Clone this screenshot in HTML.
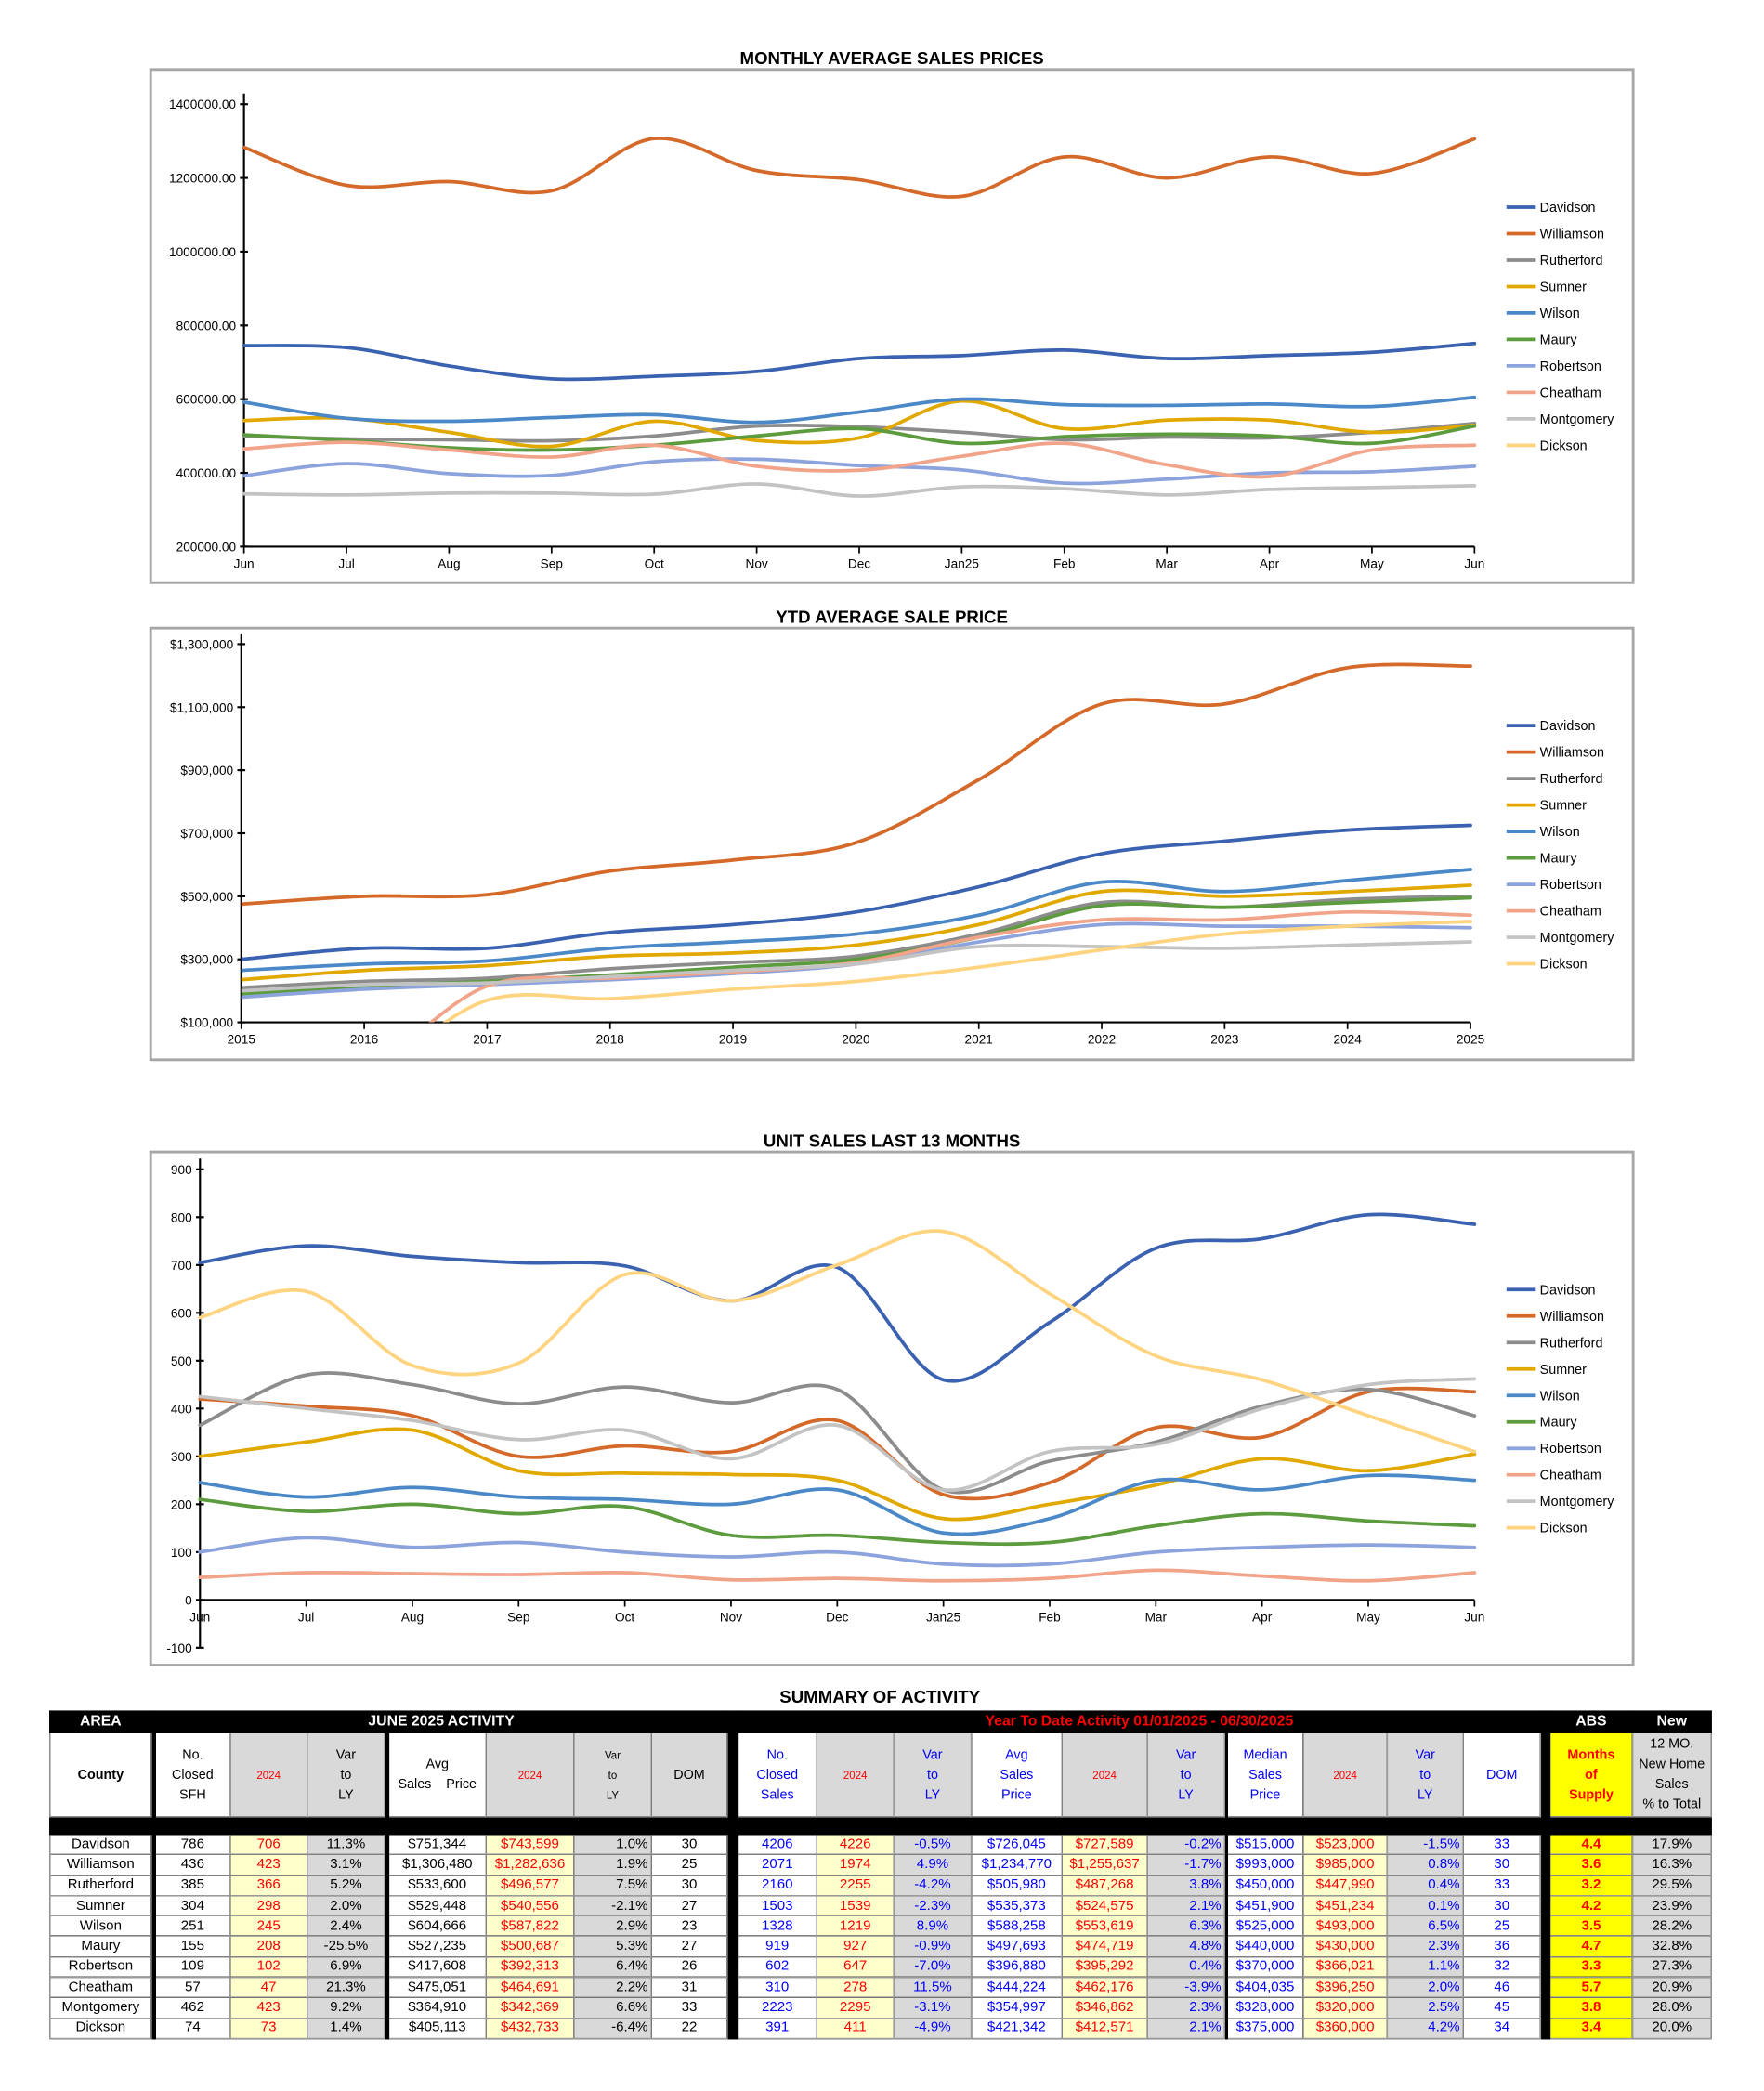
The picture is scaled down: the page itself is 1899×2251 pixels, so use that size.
<!DOCTYPE html>
<html><head><meta charset="utf-8">
<style>
html,body{margin:0;padding:0;background:#fff;}
body{width:1899px;height:2251px;overflow:hidden;position:relative;}
#wrap{position:absolute;left:0;top:0;width:1323px;height:1565px;transform:scale(1.4352,1.43864);transform-origin:0 0;font-family:"Liberation Sans Narrow","Liberation Sans",sans-serif;}
svg text{font-family:"Liberation Sans Narrow","Liberation Sans",sans-serif;}
#tbl{position:absolute;left:37px;top:1280px;width:1246px;border-collapse:collapse;table-layout:fixed;background:#000;font-size:10.5px;}
#tbl td{border:1px solid #9a9a9a;padding:0 2px;text-align:center;overflow:hidden;white-space:nowrap;height:14.3px;line-height:13px;}
#tbl td.g{background:#000;border-color:#000;padding:0;}
#tbl tr.h1 td{background:#000;color:#fff;font-weight:bold;height:15px;border-color:#000;font-size:11px;}
#tbl tr.h2 td{height:62px;line-height:15px;white-space:normal;font-size:10px;}
#tbl tr.band td{background:#000;height:12px;border-color:#000;}
.w{background:#fff;}.gr{background:#d9d9d9;}.yl{background:#ffffcc;color:#f00;}.ab{background:#ffff00;color:#f00;font-weight:bold;}
.r{color:#f00;}.b{color:#00f;}.ra{text-align:right !important;}
</style></head><body>
<div id="wrap">
<svg id="charts" width="1320" height="1270" style="position:absolute;left:0;top:0">
 <defs>
  <clipPath id="clip2"><rect x="181" y="470" width="940" height="295"/></clipPath>
 </defs>
 <text x="669" y="48" text-anchor="middle" font-size="13" font-weight="bold">MONTHLY AVERAGE SALES PRICES</text>
 <rect x="113" y="52" width="1112" height="384" fill="none" stroke="#a6a6a6" stroke-width="2"/>
 <text x="669" y="466" text-anchor="middle" font-size="13" font-weight="bold">YTD AVERAGE SALE PRICE</text>
 <rect x="113" y="470" width="1112" height="323" fill="none" stroke="#a6a6a6" stroke-width="2"/>
 <text x="669" y="858" text-anchor="middle" font-size="13" font-weight="bold">UNIT SALES LAST 13 MONTHS</text>
 <rect x="113" y="862" width="1112" height="384" fill="none" stroke="#a6a6a6" stroke-width="2"/>
 <g id="c1"></g>
 <g id="c2"></g>
 <g id="c3"></g>
</svg>
<div style="position:absolute;left:0;width:1320px;top:1262px;text-align:center;font-size:13px;font-weight:bold;">SUMMARY OF ACTIVITY</div>
<table id="tbl">
<colgroup><col style="width:76px"><col style="width:3px"><col style="width:56px"><col style="width:58px"><col style="width:58px"><col style="width:3px"><col style="width:73px"><col style="width:66px"><col style="width:58px"><col style="width:57px"><col style="width:8px"><col style="width:59px"><col style="width:58px"><col style="width:58px"><col style="width:68px"><col style="width:64px"><col style="width:58px"><col style="width:2px"><col style="width:57px"><col style="width:63px"><col style="width:57px"><col style="width:58px"><col style="width:7px"><col style="width:62px"><col style="width:59px"></colgroup>
<tr class="h1"><td>AREA</td><td class="g"></td><td colspan="8">JUNE 2025 ACTIVITY</td><td class="g"></td><td colspan="11" style="color:#f00">Year To Date Activity 01/01/2025 - 06/30/2025</td><td class="g"></td><td>ABS</td><td>New</td></tr>
<tr class="h2"><td class="w" style="font-weight:bold">County</td><td class="g"></td><td class="w">No.<br>Closed<br>SFH</td><td class="gr r" style="font-size:8px">2024</td><td class="gr">Var<br>to<br>LY</td><td class="g"></td><td class="w">Avg<br>Sales&nbsp;&nbsp;&nbsp;&nbsp;Price</td><td class="gr r" style="font-size:8px">2024</td><td class="gr" style="font-size:8px">Var<br>to<br>LY</td><td class="gr">DOM</td><td class="g"></td><td class="w b">No.<br>Closed<br>Sales</td><td class="gr r" style="font-size:8px">2024</td><td class="gr b">Var<br>to<br>LY</td><td class="w b">Avg<br>Sales<br>Price</td><td class="gr r" style="font-size:8px">2024</td><td class="gr b">Var<br>to<br>LY</td><td class="g"></td><td class="w b">Median<br>Sales<br>Price</td><td class="gr r" style="font-size:8px">2024</td><td class="gr b">Var<br>to<br>LY</td><td class="w b">DOM</td><td class="g"></td><td class="ab" style="font-weight:bold">Months<br>of<br>Supply</td><td class="gr">12 MO.<br>New Home<br>Sales<br>% to Total</td></tr>
<tr class="band"><td colspan="25"></td></tr>
<tbody id="tb"></tbody>
</table>
</div>
<script>
// ---------- chart data ----------
const counties = ["Davidson","Williamson","Rutherford","Sumner","Wilson","Maury","Robertson","Cheatham","Montgomery","Dickson"];
const colors = ["#3a62b0","#d4692a","#8c8c8c","#e1a800","#4a88c7","#5c9b3e","#8da3dd","#f2a48a","#c3c3c3","#ffd480"];
const months = ["Jun","Jul","Aug","Sep","Oct","Nov","Dec","Jan25","Feb","Mar","Apr","May","Jun"];
const years = ["2015","2016","2017","2018","2019","2020","2021","2022","2023","2024","2025"];
const priceTicks = [200000,400000,600000,800000,1000000,1200000,1400000];
const ytdTicks = [100000,300000,500000,700000,900000,1100000,1300000];
const ytdTickLabels = ["$100,000","$300,000","$500,000","$700,000","$900,000","$1,100,000","$1,300,000"];
const unitTicks = [-100,0,100,200,300,400,500,600,700,800,900];

const mDavidson = [745000,740000,690000,655000,662000,675000,710000,718000,733000,710000,718000,727000,751000];
const mWilliamson = [1283000,1180000,1190000,1165000,1307000,1220000,1195000,1150000,1257000,1200000,1257000,1212000,1306000];
const mRutherford = [500000,492000,490000,487000,500000,527000,525000,510000,490000,497000,495000,510000,534000];
const mSumner = [542000,548000,510000,472000,540000,488000,495000,595000,520000,543000,543000,510000,529000];
const mWilson = [592000,548000,540000,550000,558000,537000,565000,600000,585000,583000,587000,580000,605000];
const mMaury = [503000,488000,468000,462000,475000,500000,520000,480000,498000,505000,500000,480000,527000];
const mRobertson = [392000,425000,398000,393000,430000,437000,420000,408000,372000,383000,400000,403000,418000];
const mCheatham = [465000,483000,462000,443000,475000,418000,407000,445000,480000,422000,390000,462000,475000];
const mMontgomery = [343000,340000,345000,345000,342000,370000,337000,362000,357000,340000,355000,360000,365000];
const mDickson = [];

const yDavidson = [300000,335000,335000,385000,410000,450000,530000,635000,675000,710000,725000];
const yWilliamson = [475000,500000,505000,580000,615000,670000,870000,1110000,1110000,1225000,1230000];
const yRutherford = [210000,230000,240000,270000,290000,310000,380000,480000,465000,490000,500000];
const ySumner = [235000,265000,280000,310000,320000,345000,410000,515000,500000,515000,535000];
const yWilson = [265000,285000,295000,335000,355000,380000,440000,545000,515000,550000,585000];
const yMaury = [190000,215000,230000,250000,275000,300000,370000,470000,465000,480000,495000];
const yRobertson = [180000,205000,220000,235000,255000,285000,355000,410000,405000,405000,400000];
const yCheatham = [-40000,-40000,215000,240000,260000,290000,370000,425000,425000,450000,440000];
const yMontgomery = [200000,220000,225000,245000,265000,285000,340000,340000,335000,345000,355000];
const yDickson = [-60000,-60000,170000,175000,205000,230000,275000,330000,380000,405000,420000];

const uDavidson = [705,740,718,705,698,625,695,460,580,735,755,805,785];
const uWilliamson = [420,405,385,300,322,310,375,220,245,360,340,435,435];
const uRutherford = [365,470,450,410,445,412,440,230,290,330,405,440,385];
const uSumner = [300,330,355,270,265,262,250,170,200,240,295,270,305];
const uWilson = [245,215,235,215,210,200,230,140,170,250,230,260,250];
const uMaury = [210,185,200,180,195,135,135,120,120,155,180,165,155];
const uRobertson = [100,130,110,120,100,90,100,75,75,100,110,115,110];
const uCheatham = [47,57,55,53,57,42,45,40,45,62,50,40,57];
const uMontgomery = [425,400,375,335,355,295,365,230,310,325,400,450,462];
const uDickson = [590,645,490,495,680,625,700,770,640,510,460,385,310];

const monthlySeries = [mDavidson,mWilliamson,mRutherford,mSumner,mWilson,mMaury,mRobertson,mCheatham,mMontgomery,mDickson];
const ytdSeries = [yDavidson,yWilliamson,yRutherford,ySumner,yWilson,yMaury,yRobertson,yCheatham,yMontgomery,yDickson];
const unitSeries = [uDavidson,uWilliamson,uRutherford,uSumner,uWilson,uMaury,uRobertson,uCheatham,uMontgomery,uDickson];

const NS = "http://www.w3.org/2000/svg";
function mk(tag, attrs, parent){const e=document.createElementNS(NS,tag);for(const k in attrs)e.setAttribute(k,attrs[k]);parent.appendChild(e);return e;}
function smooth(p){
  if(p.length<2) return "";
  let d="M"+p[0][0]+","+p[0][1];
  for(let i=0;i<p.length-1;i++){
    const p0=p[i-1]||p[i],p1=p[i],p2=p[i+1],p3=p[i+2]||p2;
    const c1x=p1[0]+(p2[0]-p0[0])/6,c1y=p1[1]+(p2[1]-p0[1])/6;
    const c2x=p2[0]-(p3[0]-p1[0])/6,c2y=p2[1]-(p3[1]-p1[1])/6;
    d+=" C"+c1x+","+c1y+" "+c2x+","+c2y+" "+p2[0]+","+p2[1];
  }
  return d;
}
function chart(g,cfg){
  const n=cfg.cats.length;
  const X=i=>cfg.x0+i*(cfg.x1-cfg.x0)/(n-1);
  const Y=v=>cfg.yTop+(cfg.vmax-v)/(cfg.vmax-cfg.vmin)*(cfg.yBot-cfg.yTop);
  const zeroY=Y(cfg.base);
  const ya=mk("line",{x1:cfg.x0,x2:cfg.x0,y1:cfg.yTop-8,y2:cfg.yBot,stroke:"#000","stroke-width":1.5},g);
  
  
  cfg.ticks.forEach((t,i)=>{
    mk("line",{x1:cfg.x0-3,x2:cfg.x0+3,y1:Y(t),y2:Y(t),stroke:"#000","stroke-width":1.5},g);
    const tx=mk("text",{x:cfg.x0-6,y:Y(t)+3.5,"text-anchor":"end","font-size":9.5},g);
    tx.textContent=cfg.tickLabels[i];
    
    
  });
  const xa=mk("line",{x1:cfg.x0,x2:cfg.x1,y1:zeroY,y2:zeroY,stroke:"#000","stroke-width":1.5},g);
  
  
  cfg.cats.forEach((c,i)=>{
    mk("line",{x1:X(i),x2:X(i),y1:zeroY,y2:zeroY+5,stroke:"#000","stroke-width":1.2},g);
    const tx=mk("text",{x:X(i),y:zeroY+16,"text-anchor":"middle","font-size":9.5},g);
    tx.textContent=c;
    
    
  });
  const lg=mk("g",cfg.clip?{"clip-path":"url(#"+cfg.clip+")"}:{},g);
  cfg.series.forEach((s,k)=>{
    const pts=s.map((v,i)=>[X(i),Y(v)]);
    const p=mk("path",{d:smooth(pts),fill:"none",stroke:colors[k],"stroke-width":2.6,"stroke-linecap":"round"},lg);
    
    
  });
  counties.forEach((c,k)=>{
    const ly=cfg.legY+k*19.8;
    const l=mk("line",{x1:1130,x2:1152,y1:ly,y2:ly,stroke:colors[k],"stroke-width":2.6},g);
    
    
    const t=mk("text",{x:1155,y:ly+3.5,"font-size":10},g);
    t.textContent=c;
    
    
  });
}
chart(document.getElementById("c1"),{cats:months,x0:183,x1:1106,yTop:78,yBot:409,vmin:200000,vmax:1400000,base:200000,ticks:priceTicks,tickLabels:priceTicks.map(t=>t+".00"),series:monthlySeries,legY:155});
chart(document.getElementById("c2"),{cats:years,x0:181,x1:1103,yTop:482,yBot:765,vmin:100000,vmax:1300000,base:100000,ticks:ytdTicks,tickLabels:ytdTickLabels,series:ytdSeries,legY:543,clip:"clip2"});
chart(document.getElementById("c3"),{cats:months,x0:150,x1:1106,yTop:875,yBot:1233,vmin:-100,vmax:900,base:0,ticks:unitTicks,tickLabels:unitTicks.map(String),series:unitSeries,legY:965});

// ---------- table ----------
const rows = [
["Davidson","786","706","11.3%","$751,344","$743,599","1.0%","30","4206","4226","-0.5%","$726,045","$727,589","-0.2%","$515,000","$523,000","-1.5%","33","4.4","17.9%"],
["Williamson","436","423","3.1%","$1,306,480","$1,282,636","1.9%","25","2071","1974","4.9%","$1,234,770","$1,255,637","-1.7%","$993,000","$985,000","0.8%","30","3.6","16.3%"],
["Rutherford","385","366","5.2%","$533,600","$496,577","7.5%","30","2160","2255","-4.2%","$505,980","$487,268","3.8%","$450,000","$447,990","0.4%","33","3.2","29.5%"],
["Sumner","304","298","2.0%","$529,448","$540,556","-2.1%","27","1503","1539","-2.3%","$535,373","$524,575","2.1%","$451,900","$451,234","0.1%","30","4.2","23.9%"],
["Wilson","251","245","2.4%","$604,666","$587,822","2.9%","23","1328","1219","8.9%","$588,258","$553,619","6.3%","$525,000","$493,000","6.5%","25","3.5","28.2%"],
["Maury","155","208","-25.5%","$527,235","$500,687","5.3%","27","919","927","-0.9%","$497,693","$474,719","4.8%","$440,000","$430,000","2.3%","36","4.7","32.8%"],
["Robertson","109","102","6.9%","$417,608","$392,313","6.4%","26","602","647","-7.0%","$396,880","$395,292","0.4%","$370,000","$366,021","1.1%","32","3.3","27.3%"],
["Cheatham","57","47","21.3%","$475,051","$464,691","2.2%","31","310","278","11.5%","$444,224","$462,176","-3.9%","$404,035","$396,250","2.0%","46","5.7","20.9%"],
["Montgomery","462","423","9.2%","$364,910","$342,369","6.6%","33","2223","2295","-3.1%","$354,997","$346,862","2.3%","$328,000","$320,000","2.5%","45","3.8","28.0%"],
["Dickson","74","73","1.4%","$405,113","$432,733","-6.4%","22","391","411","-4.9%","$421,342","$412,571","2.1%","$375,000","$360,000","4.2%","34","3.4","20.0%"]
];
const cls = ["w","w","yl","gr","w","yl","gr ra","w","w b","yl","gr b","w b","yl","gr b ra","w b","yl","gr b ra","w b","ab","gr"];
const gapsAfter = {0:1,3:1,7:1,13:1,17:1};
const tb=document.getElementById("tb");
rows.forEach(r=>{
  const tr=document.createElement("tr");
  
  
  r.forEach((v,i)=>{
    const td=document.createElement("td");
    td.className=cls[i];
    td.textContent=v;
    tr.appendChild(td);
    if(gapsAfter[i]){const g=document.createElement("td");g.className="g";tr.appendChild(g);}
  });
  tb.appendChild(tr);
});
</script>
</body></html>
